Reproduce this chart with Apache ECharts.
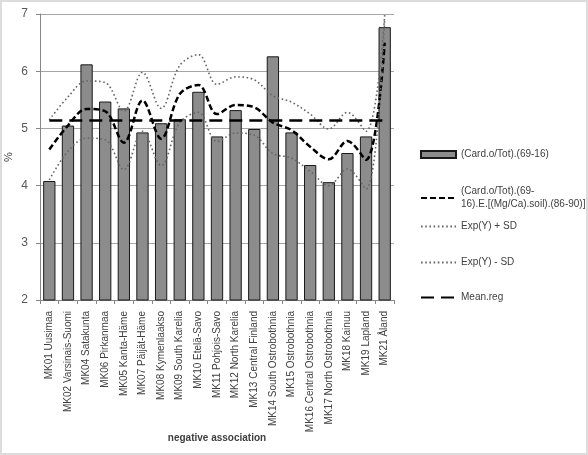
<!DOCTYPE html>
<html><head><meta charset="utf-8">
<script src="https://cdn.jsdelivr.net/npm/echarts@6/dist/echarts.min.js"></script>
<style>
html,body{margin:0;padding:0;background:#dcdcdc;}
#c{position:absolute;left:2px;top:2px;width:584px;height:451px;background:#fff;}
</style></head>
<body><div id="c"></div>
<script>
const categories = ["MK01 Uusimaa","MK02 Varsinais-Suomi","MK04 Satakunta","MK06 Pirkanmaa","MK05 Kanta-Häme","MK07 Päijät-Häme","MK08 Kymenlaakso","MK09 South Karelia","MK10 Etelä-Savo","MK11 Pohjois-Savo","MK12 North Karelia","MK13 Central Finland","MK14 South Ostrobothnia","MK15 Ostrobothnia","MK16 Central Ostrobothnia","MK17 North Ostrobothnia","MK18 Kainuu","MK19 Lapland","MK21 Åland"];
const barValues = [4.08,5.05,6.12,5.47,5.35,4.93,5.09,5.16,5.64,4.86,5.32,4.99,6.26,4.93,4.36,4.06,4.57,4.86,6.77];
const expValues = [4.63,5.05,5.34,5.30,4.75,5.49,4.82,5.60,5.76,5.25,5.41,5.37,5.10,4.97,4.68,4.46,4.78,4.45,6.50];
const plusSD = [5.15,5.55,5.83,5.80,5.30,5.98,5.35,6.10,6.29,5.77,5.90,5.85,5.57,5.46,5.25,4.99,5.28,4.95,6.98];
const minusSD = [4.10,4.60,4.83,4.80,4.28,4.95,4.35,5.10,5.28,4.77,4.92,4.88,4.56,4.48,4.25,4.00,4.29,3.94,6.92];
const meanReg = 5.14;
const yTicks = {min:2, max:7, interval:1};
const names = ["(Card.o/Tot).(69-16)","(Card.o/Tot).(69-16).E.[(Mg/Ca).soil).(86-90)]","Exp(Y) + SD","Exp(Y) - SD","Mean.reg"];

const chart = echarts.init(document.getElementById('c'));
const font = "'Liberation Sans', Arial, sans-serif";
function leg(name, top, isBar){
  const l = {data:[name], left:413, top:top, orient:'vertical', itemWidth:35, itemHeight:isBar?7:8, itemGap:0,
    textStyle:{fontFamily:font,fontSize:10,color:'#404040',lineHeight:13},
    formatter: n => n === names[1] ? "(Card.o/Tot).(69-\n16).E.[(Mg/Ca).soil).(86-90)]" : n,
    selectedMode:false};
  if (isBar) { l.icon = 'rect'; }
  else { l.itemStyle = {opacity:0}; }
  return l;
}
chart.setOption({
  animation:false,
  textStyle:{fontFamily:font},
  grid:{left:38, right:192, top:12, bottom:153, outerBoundsMode:'none'},
  legend:[leg(names[0],141,true), leg(names[1],178), leg(names[2],213), leg(names[3],249), leg(names[4],284)],
  xAxis:{type:'category', data:categories,
    name:'negative association', nameLocation:'middle', nameGap:133, nameMoveOverlap:false,
    nameTextStyle:{fontFamily:font,fontSize:10,fontWeight:'bold',color:'#404040'},
    axisLine:{lineStyle:{color:'#868686'}},
    axisTick:{show:true, length:4, lineStyle:{color:'#868686'}},
    axisLabel:{rotate:90, fontSize:10, color:'#404040', interval:0, margin:11}},
  yAxis:{type:'value', min:yTicks.min, max:yTicks.max, interval:yTicks.interval,
    name:'%', nameLocation:'middle', nameGap:26, nameRotate:90, nameMoveOverlap:false,
    nameTextStyle:{fontSize:11,color:'#404040'},
    axisLine:{show:true, lineStyle:{color:'#868686'}},
    axisTick:{show:true, length:4, lineStyle:{color:'#868686'}},
    axisLabel:{fontSize:12, color:'#595959', margin:12},
    splitLine:{lineStyle:{color:'#a6a6a6'}}},
  series:[
    {name:names[0], type:'bar', data:barValues, barCategoryGap:'34%',
      itemStyle:{color:'#8c8c8c', borderColor:'#1a1a1a', borderWidth:1}},
    {name:names[1], type:'line', data:expValues, smooth:0.35, symbol:'none',
      lineStyle:{color:'#000', width:2.5, type:[6,3]}},
    {name:names[2], type:'line', data:plusSD, smooth:0.35, symbol:'none',
      lineStyle:{color:'#666', width:1.6, type:[1.6,2.6]}},
    {name:names[3], type:'line', data:minusSD, smooth:0.35, symbol:'none',
      lineStyle:{color:'#666', width:1.6, type:[1.6,2.6]}},
    {name:names[4], type:'line', data:categories.map(()=>meanReg), symbol:'none',
      lineStyle:{color:'#000', width:2.5, type:[13,7]}}
  ]
});
</script></body></html>
